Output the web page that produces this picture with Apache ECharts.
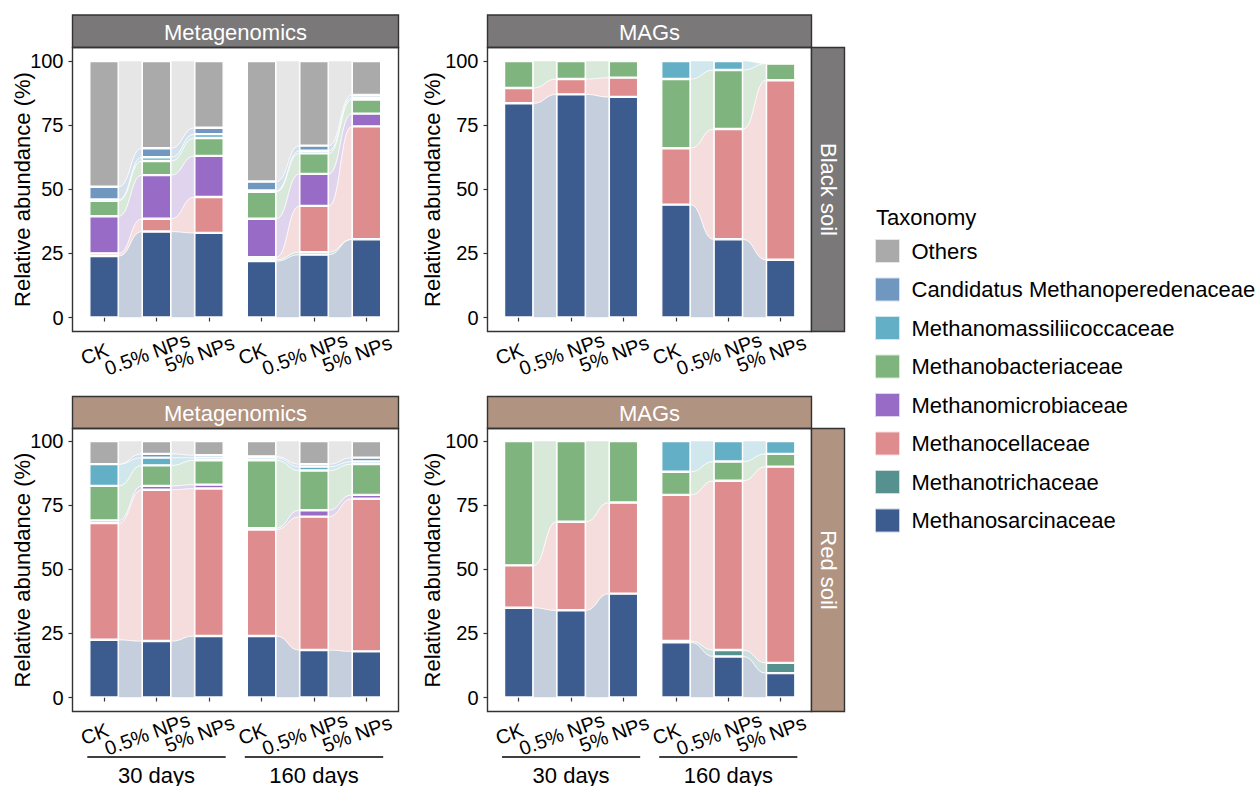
<!DOCTYPE html>
<html>
<head>
<meta charset="utf-8">
<script src="https://cdn.jsdelivr.net/npm/echarts@6/dist/echarts.min.js"></script>
<style>
  html, body { margin: 0; padding: 0; background: #fff; }
  #chart { width: 1258px; height: 786px; }
</style>
</head>
<body>
<div id="chart"></div>
<script>
// ---- data -------------------------------------------------------------
const treatments = ['CK', '0.5% NPs', '5% NPs'];
const periods = ['30 days', '160 days'];
const yTicks = [0, 25, 50, 75, 100];
const facetColumns = ['Metagenomics', 'MAGs'];
const facetRows = ['Black soil', 'Red soil'];

// stacking order, bottom to top
const taxa = [
  'Methanosarcinaceae',
  'Methanotrichaceae',
  'Methanocellaceae',
  'Methanomicrobiaceae',
  'Methanobacteriaceae',
  'Methanomassiliicoccaceae',
  'Candidatus Methanoperedenaceae',
  'Others'
];
const taxaColors = ['#3C5B8F', '#56908F', '#DE8C8E', '#976BC6', '#7FB47F', '#63AFC5', '#6F97C0', '#ABAAAB'];

// relative abundance (%), one row per taxon (order of `taxa`), columns:
// 30 d CK, 30 d 0.5% NPs, 30 d 5% NPs, 160 d CK, 160 d 0.5% NPs, 160 d 5% NPs
const blackMetagenomics = [
  [24, 33.5, 33, 22, 24.5, 30.5],
  [0, 0, 0, 0.5, 1, 0],
  [1, 5, 14, 1, 18, 44],
  [14.5, 17, 16, 15, 12.5, 5],
  [6, 5.5, 7, 10.5, 8, 5.5],
  [0.5, 1.5, 1.5, 0.5, 1, 0.8],
  [5, 3.5, 2.5, 3.5, 2, 1],
  [49, 34, 26, 47, 33, 13.2]
];
const blackMAGs = [
  [83.5, 87, 86, 44, 30.5, 22.5],
  [0, 0, 0, 0, 0, 0],
  [6, 6, 7.5, 22, 43, 70],
  [0, 0, 0, 0, 0, 0],
  [10.5, 7, 6.5, 27, 23, 6.5],
  [0, 0, 0, 7, 3.5, 0],
  [0, 0, 0, 0, 0, 0],
  [0, 0, 0, 0, 0, 0]
];
const redMetagenomics = [
  [22.5, 22, 24, 24, 18.5, 18],
  [0, 0, 0, 0, 0, 0],
  [45.5, 59, 57.5, 41.5, 52, 59.5],
  [1, 1.5, 1.5, 0.5, 2.5, 1.5],
  [13.5, 8, 9.5, 26.5, 15.5, 12],
  [8.5, 3, 1, 1, 1.5, 1],
  [0, 1.5, 1, 0.5, 1, 1.5],
  [9, 5, 5.5, 6, 9, 6.5]
];
const redMAGs = [
  [35, 34, 40.5, 21.5, 16, 9.5],
  [0, 0, 0, 0.5, 2.5, 4],
  [16.5, 34.5, 35.5, 57, 66, 76.5],
  [0, 0, 0, 0, 0, 0],
  [48.5, 31.5, 24, 9, 7.5, 5],
  [0, 0, 0, 12, 8, 5],
  [0, 0, 0, 0, 0, 0],
  [0, 0, 0, 0, 0, 0]
];

// ---- layout & style ---------------------------------------------------
const FONT = "'Liberation Sans', Arial, Helvetica, sans-serif";
const BAR_RATIO = 0.56;
const STRIP_FILL = ['#7A7879', '#B09381'];
const FRAME = '#333333';

// panel frames (x range per column, y range per row) and the inner data area
const colLayout = [
  { box: [72.5, 398.5], gridLeft: 77.75, gridWidth: 315, titleX: 22 },
  { box: [487.5, 811.5], gridLeft: 492.5, gridWidth: 314.4, titleX: 432 }
];
const rowLayout = [
  { strip: [15, 47.5], box: [47.5, 331.5], gridTop: 61, gridHeight: 256.5 },
  { strip: [396.5, 428.5], box: [428.5, 711.5], gridTop: 441, gridHeight: 256.5 }
];
const RIGHT_STRIP = [811.5, 844.5];

const panels = [
  { rows: blackMetagenomics, r: 0, c: 0 },
  { rows: blackMAGs, r: 0, c: 1 },
  { rows: redMetagenomics, r: 1, c: 0 },
  { rows: redMAGs, r: 1, c: 1 }
];

const samples = [];
periods.forEach(p => treatments.forEach(t => samples.push(p + ' | ' + t)));

function tint(hex, a) {
  const n = parseInt(hex.slice(1), 16);
  const ch = [(n >> 16) & 255, (n >> 8) & 255, n & 255].map(v => Math.round(255 - a * (255 - v)));
  return 'rgb(' + ch.join(',') + ')';
}
const flowColors = taxaColors.map(c => tint(c, 0.3));

// flow band between two neighbouring bars of the same period
function flowRenderer(rows) {
  return function (params, api) {
    const a = api.value(0), t = api.value(1), b = a + 1;
    const base = i => rows.slice(0, t).reduce((s, row) => s + row[i], 0);
    const aLo = base(a), aHi = aLo + rows[t][a];
    const bLo = base(b), bHi = bLo + rows[t][b];
    const half = api.size([1, 0])[0] * BAR_RATIO / 2;
    const pAh = api.coord([a, aHi]), pAl = api.coord([a, aLo]);
    const pBh = api.coord([b, bHi]), pBl = api.coord([b, bLo]);
    const x0 = pAh[0] + half, x1 = pBh[0] - half, xm = (x0 + x1) / 2;
    const d = 'M' + x0 + ',' + pAh[1] +
      ' C' + xm + ',' + pAh[1] + ' ' + xm + ',' + pBh[1] + ' ' + x1 + ',' + pBh[1] +
      ' L' + x1 + ',' + pBl[1] +
      ' C' + xm + ',' + pBl[1] + ' ' + xm + ',' + pAl[1] + ' ' + x0 + ',' + pAl[1] + ' Z';
    return {
      type: 'path',
      shape: { pathData: d },
      style: { fill: flowColors[t], stroke: '#ffffff', lineWidth: 0.6 }
    };
  };
}

const grids = [], xAxes = [], yAxes = [], series = [];
panels.forEach((pn, pi) => {
  const C = colLayout[pn.c], R = rowLayout[pn.r];
  grids.push({
    left: C.gridLeft, top: R.gridTop, width: C.gridWidth, height: R.gridHeight,
    containLabel: false, outerBoundsMode: 'none'
  });
  xAxes.push({
    type: 'category', gridIndex: pi, data: samples,
    offset: R.box[1] - (R.gridTop + R.gridHeight),
    axisLine: { show: false },
    axisTick: { show: true, alignWithLabel: true, length: 4, lineStyle: { color: FRAME, width: 1.2 } },
    axisLabel: {
      interval: 0, rotate: 20, align: 'center', verticalAlign: 'middle',
      margin: 19, padding: [0, 20, 0, 0],
      fontSize: 20, color: '#000', fontFamily: FONT,
      formatter: v => v.split(' | ')[1]
    },
    splitLine: { show: false }
  });
  yAxes.push({
    type: 'value', gridIndex: pi,
    min: yTicks[0], max: yTicks[yTicks.length - 1], interval: yTicks[1] - yTicks[0],
    offset: C.gridLeft - C.box[0],
    axisLine: { show: false },
    axisTick: { show: true, length: 4, lineStyle: { color: FRAME, width: 1.2 } },
    axisLabel: { margin: 9, fontSize: 20, color: '#000', fontFamily: FONT },
    splitLine: { show: false }
  });

  // flows
  const flowData = [];
  pn.rows.forEach((row, t) => {
    [0, 1, 3, 4].forEach(a => {
      if (row[a] > 0 || row[a + 1] > 0) flowData.push([a, t]);
    });
  });
  series.push({
    type: 'custom', xAxisIndex: pi, yAxisIndex: pi, z: 1,
    renderItem: flowRenderer(pn.rows),
    encode: { x: 0, y: 1 },
    data: flowData, silent: true
  });

  // stacked bars
  pn.rows.forEach((row, t) => {
    series.push({
      type: 'bar', name: taxa[t], xAxisIndex: pi, yAxisIndex: pi,
      stack: 'panel' + pi, z: 2,
      barWidth: (BAR_RATIO * 100) + '%',
      itemStyle: { color: taxaColors[t], borderColor: '#ffffff', borderWidth: 1.2 },
      emphasis: { disabled: true },
      data: row.map(v => (v > 0 ? v : '-'))
    });
  });
});

const chart = echarts.init(document.getElementById('chart'), null, { renderer: 'svg' });
chart.setOption({
  animation: false,
  backgroundColor: '#ffffff',
  textStyle: { fontFamily: FONT },
  grid: grids, xAxis: xAxes, yAxis: yAxes, series: series,
  legend: {
    orient: 'vertical', left: 870, top: 234, padding: 5,
    itemWidth: 24, itemHeight: 23, itemGap: 14.5,
    icon: 'rect', selectedMode: false,
    textStyle: { fontSize: 22, color: '#000', fontFamily: FONT, padding: [0, 0, 0, 7] },
    data: taxa.slice().reverse().map(name => ({
      name: name,
      itemStyle: { borderColor: flowColors[taxa.indexOf(name)], borderWidth: 1 }
    }))
  }
});

// ---- frames, strips, titles, period brackets --------------------------
const graphics = [];
panels.forEach((pn, pi) => {
  const C = colLayout[pn.c], R = rowLayout[pn.r];
  // top strip
  graphics.push({
    type: 'rect', z: 50, silent: true,
    shape: { x: C.box[0], y: R.strip[0], width: C.box[1] - C.box[0], height: R.strip[1] - R.strip[0] },
    style: { fill: STRIP_FILL[pn.r], stroke: FRAME, lineWidth: 1.4 }
  });
  graphics.push({
    type: 'text', z: 51, silent: true,
    x: (C.box[0] + C.box[1]) / 2, y: (R.strip[0] + R.strip[1]) / 2 + 1,
    style: { text: facetColumns[pn.c], fill: '#fff', fontSize: 22, fontFamily: FONT, align: 'center', verticalAlign: 'middle' }
  });
  // panel frame
  graphics.push({
    type: 'rect', z: 50, silent: true,
    shape: { x: C.box[0], y: R.box[0], width: C.box[1] - C.box[0], height: R.box[1] - R.box[0] },
    style: { fill: 'none', stroke: FRAME, lineWidth: 1.4 }
  });
  // y title
  graphics.push({
    type: 'text', z: 51, silent: true,
    x: C.titleX, y: (R.box[0] + R.box[1]) / 2, rotation: Math.PI / 2,
    style: { text: 'Relative abundance (%)', fill: '#000', fontSize: 22, fontFamily: FONT, align: 'center', verticalAlign: 'middle' }
  });
  // right strip
  if (pn.c === 1) {
    graphics.push({
      type: 'rect', z: 50, silent: true,
      shape: { x: RIGHT_STRIP[0], y: R.box[0], width: RIGHT_STRIP[1] - RIGHT_STRIP[0], height: R.box[1] - R.box[0] },
      style: { fill: STRIP_FILL[pn.r], stroke: FRAME, lineWidth: 1.4 }
    });
    graphics.push({
      type: 'text', z: 51, silent: true,
      x: (RIGHT_STRIP[0] + RIGHT_STRIP[1]) / 2, y: (R.box[0] + R.box[1]) / 2, rotation: -Math.PI / 2,
      style: { text: facetRows[pn.r], fill: '#fff', fontSize: 22, fontFamily: FONT, align: 'center', verticalAlign: 'middle' }
    });
  }
  // period brackets under the bottom row
  if (pn.r === 1) {
    periods.forEach((p, g) => {
      const first = chart.convertToPixel({ xAxisIndex: pi, yAxisIndex: pi }, [samples[g * 3], 0]);
      const last = chart.convertToPixel({ xAxisIndex: pi, yAxisIndex: pi }, [samples[g * 3 + 2], 0]);
      const band = C.gridWidth / samples.length;
      const half = band * BAR_RATIO / 2 + 2;
      graphics.push({
        type: 'line', z: 50, silent: true,
        shape: { x1: first[0] - half, y1: 757, x2: last[0] + half, y2: 757 },
        style: { stroke: '#000', lineWidth: 1.4 }
      });
      graphics.push({
        type: 'text', z: 51, silent: true,
        x: (first[0] + last[0]) / 2, y: 775,
        style: { text: p, fill: '#000', fontSize: 22, fontFamily: FONT, align: 'center', verticalAlign: 'middle' }
      });
    });
  }
});
graphics.push({
  type: 'text', z: 51, silent: true, x: 876, y: 217,
  style: { text: 'Taxonomy', fill: '#000', fontSize: 22, fontFamily: FONT, align: 'left', verticalAlign: 'middle' }
});
chart.setOption({ graphic: graphics });
</script>
</body>
</html>
